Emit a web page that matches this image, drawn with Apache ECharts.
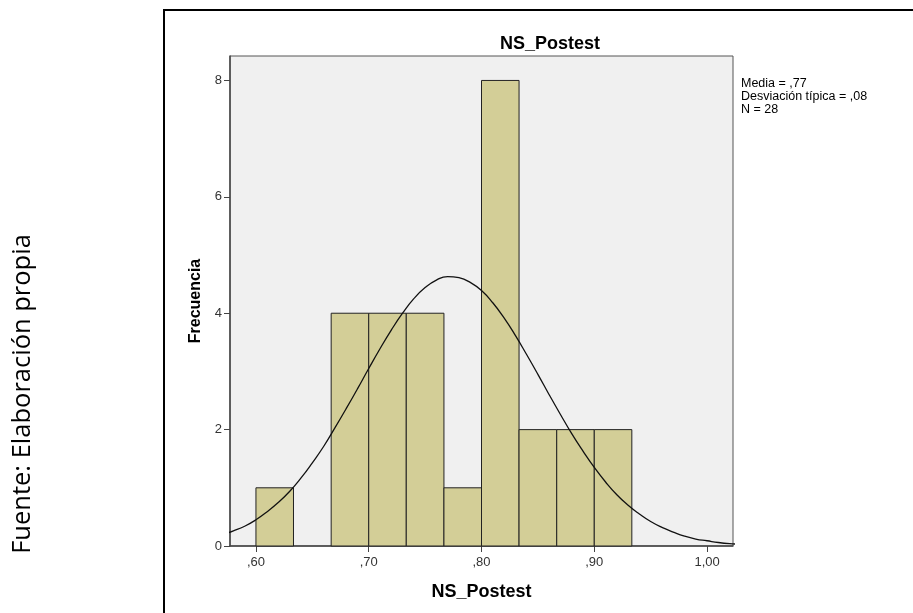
<!DOCTYPE html>
<html>
<head>
<meta charset="utf-8">
<script src="https://cdn.jsdelivr.net/npm/echarts@6/dist/echarts.min.js"></script>
<style>
  html, body { margin: 0; padding: 0; background: #fff; }
  #chart { width: 913px; height: 613px; }
</style>
</head>
<body>
<div id="chart"></div>
<script>
// bins of NS_Postest: [desde, hasta, frecuencia]
var binStart = [0.6, 0.6333, 0.6667, 0.7, 0.7333, 0.7667, 0.8, 0.8333, 0.8667, 0.9]
var binEnd = [0.6333, 0.6667, 0.7, 0.7333, 0.7667, 0.8, 0.8333, 0.8667, 0.9, 0.9333]
var counts = [1, 0, 4, 4, 4, 1, 8, 2, 2, 2]
// curva normal
var curveX = [0.57, 0.58, 0.59, 0.60, 0.61, 0.62, 0.63, 0.64, 0.65, 0.66, 0.67, 0.68, 0.69, 0.70, 0.71, 0.72, 0.73, 0.74, 0.75, 0.76, 0.77, 0.78, 0.79, 0.80,
  0.81, 0.82, 0.83, 0.84, 0.85, 0.86, 0.87, 0.88, 0.89, 0.90, 0.91, 0.92, 0.93, 0.94, 0.95, 0.96, 0.97, 0.98, 0.99, 1.00, 1.01, 1.02, 1.03]
var curveY = [0.19, 0.26, 0.34, 0.45, 0.59, 0.75, 0.94, 1.17, 1.43, 1.71, 2.03, 2.36, 2.70, 3.05, 3.39, 3.71, 4.00, 4.25, 4.44, 4.57, 4.63, 4.61, 4.53, 4.39,
  4.18, 3.92, 3.62, 3.29, 2.95, 2.60, 2.26, 1.93, 1.63, 1.35, 1.10, 0.88, 0.70, 0.55, 0.42, 0.32, 0.24, 0.17, 0.12, 0.09, 0.06, 0.04, 0.03]
var xTicks = [0.6, 0.7, 0.8, 0.9, 1.0]
var yTicks = [0, 2, 4, 6, 8]
var stats = ['Media = ,77', 'Desviación típica = ,08', 'N = 28']

var hist = counts.map(function (c, i) { return [binStart[i], binEnd[i], c] })
var curve = curveX.map(function (x, i) { return [x, curveY[i]] })

var myChart = echarts.init(document.getElementById('chart'))
var option = {
  backgroundColor: '#fff',
  animation: false,
  title: {
    text: 'NS_Postest',
    left: 545,
    top: 30,
    textAlign: 'center',
    textStyle: { fontFamily: 'Liberation Sans', fontSize: 18, fontWeight: 'bold', color: '#000' }
  },
  grid: {
    left: 230,
    top: 56,
    right: 180,
    bottom: 67,
    show: true,
    backgroundColor: '#f0f0f0',
    borderColor: '#555',
    borderWidth: 1
  },
  xAxis: {
    type: 'value',
    min: 0.577,
    max: 1.023,
    name: 'NS_Postest',
    nameLocation: 'middle',
    nameGap: 37,
    nameTextStyle: { fontFamily: 'Liberation Sans', fontSize: 18, fontWeight: 'bold', color: '#000' },
    splitLine: { show: false },
    axisLine: { lineStyle: { color: '#444', width: 1.5 } },
    axisTick: { customValues: xTicks, length: 6, lineStyle: { color: '#444' } },
    axisLabel: {
      customValues: xTicks,
      margin: 10,
      fontFamily: 'Liberation Sans',
      fontSize: 13,
      color: '#333',
      formatter: function (v) {
        var s = v.toFixed(2).replace('.', ',')
        return s.charAt(0) === '0' ? s.slice(1) : s
      }
    }
  },
  yAxis: {
    type: 'value',
    min: 0,
    max: 8.42,
    name: 'Frecuencia',
    nameLocation: 'middle',
    nameGap: 26,
    nameTextStyle: { fontFamily: 'Liberation Sans', fontSize: 16, fontWeight: 'bold', color: '#000' },
    splitLine: { show: false },
    axisLine: { show: true, lineStyle: { color: '#444', width: 1.5 } },
    axisTick: { show: true, customValues: yTicks, length: 6, lineStyle: { color: '#444' } },
    axisLabel: { customValues: yTicks, margin: 8, fontFamily: 'Liberation Sans', fontSize: 13, color: '#333' }
  },
  graphic: [
    {
      type: 'rect',
      shape: { x: 164, y: 10, width: 900, height: 800 },
      style: { fill: 'none', stroke: '#000', lineWidth: 2 },
      silent: true
    },
    {
      type: 'text',
      x: 741,
      y: 77,
      style: {
        text: stats.join('\n'),
        fontFamily: 'Liberation Sans',
        fontSize: 12.5,
        lineHeight: 13,
        fill: '#000'
      }
    },
    {
      type: 'text',
      x: 23,
      y: 394,
      rotation: Math.PI / 2,
      style: {
        text: 'Fuente: Elaboración propia',
        fontFamily: 'Open Sans',
        fontSize: 25.5,
        fill: '#000',
        align: 'center',
        verticalAlign: 'middle'
      }
    }
  ],
  series: [
    {
      type: 'custom',
      data: hist,
      renderItem: function (params, api) {
        if (api.value(2) === 0) return null
        var p0 = api.coord([api.value(0), api.value(2)])
        var p1 = api.coord([api.value(1), 0])
        return {
          type: 'rect',
          shape: { x: p0[0], y: p0[1], width: p1[0] - p0[0], height: p1[1] - p0[1] },
          style: { fill: '#d3ce97', stroke: '#222', lineWidth: 1 }
        }
      },
      encode: { x: [0, 1], y: 2 },
      z: 2
    },
    {
      type: 'line',
      data: curve,
      smooth: true,
      showSymbol: false,
      clip: true,
      lineStyle: { color: '#111', width: 1.3 },
      z: 3
    }
  ]
}
myChart.setOption(option)
</script>
</body>
</html>
